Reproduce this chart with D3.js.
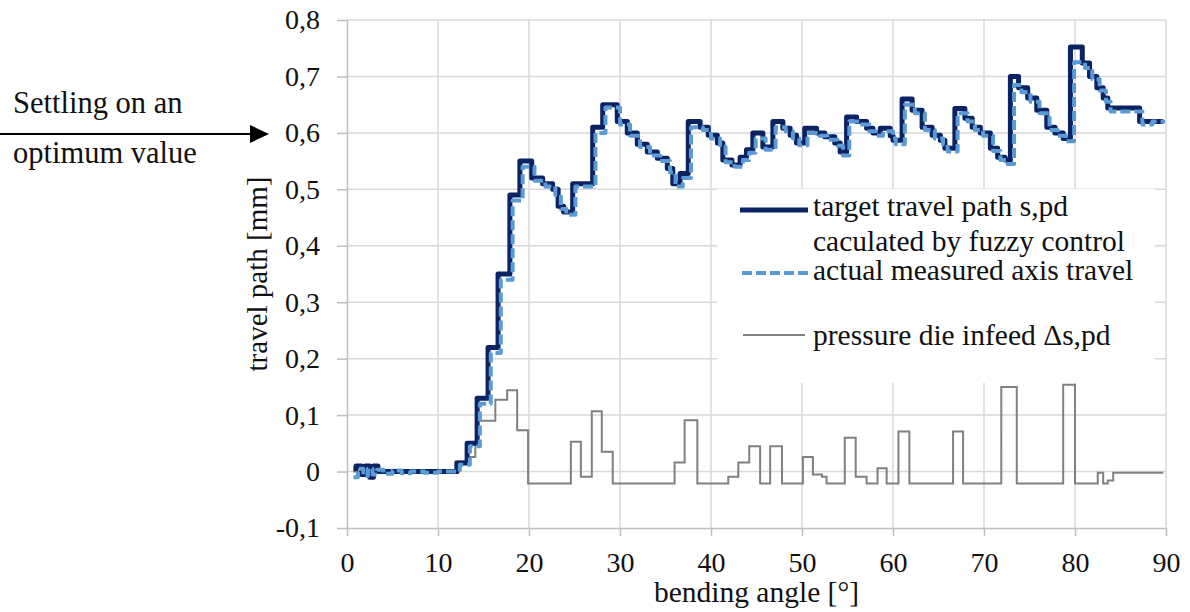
<!DOCTYPE html>
<html>
<head>
<meta charset="utf-8">
<script src="https://d3js.org/d3.v7.min.js"></script>
<style>
  body { margin: 0; background: #fff; }
  text { font-family: "Liberation Serif", "Times New Roman", serif; fill: #111; }
</style>
</head>
<body>
<script>
// x ticks, y ticks and their labels
var xTicks = [0, 10, 20, 30, 40, 50, 60, 70, 80, 90];
var yTicks = [-0.1, 0, 0.1, 0.2, 0.3, 0.4, 0.5, 0.6, 0.7, 0.8];
var yTickLabels = ["-0,1", "0", "0,1", "0,2", "0,3", "0,4", "0,5", "0,6", "0,7", "0,8"];

// target travel path s,pd  [bending angle, mm]  (step after)
var target = [
  [0.7, 0.005], [1.0, 0.01], [1.6, -0.005], [2.0, 0.01], [2.5, -0.01], [2.9, 0.01], [3.4, 0.0],
  [12.1, 0.015], [13.2, 0.05], [14.3, 0.13], [15.5, 0.22], [16.6, 0.35], [17.9, 0.49],
  [19.0, 0.55], [20.3, 0.52], [21.5, 0.51], [22.6, 0.50], [23.2, 0.47], [23.8, 0.46],
  [24.8, 0.51], [27.0, 0.61], [28.1, 0.65], [29.7, 0.62], [30.8, 0.60], [31.9, 0.58],
  [33.0, 0.566], [34.1, 0.555], [35.2, 0.537], [35.8, 0.51], [36.6, 0.528], [37.5, 0.62],
  [38.8, 0.61], [39.7, 0.596], [40.7, 0.582], [41.3, 0.552], [42.3, 0.543], [43.2, 0.557],
  [43.9, 0.57], [44.6, 0.60], [45.7, 0.575], [46.8, 0.62], [47.9, 0.608], [48.7, 0.596],
  [49.4, 0.582], [50.3, 0.608], [51.6, 0.60], [52.5, 0.593], [53.6, 0.582], [54.2, 0.566],
  [54.9, 0.628], [56.0, 0.62], [57.1, 0.608], [57.8, 0.60], [58.6, 0.608], [59.7, 0.595],
  [60.0, 0.587], [61.0, 0.66], [62.1, 0.64], [63.2, 0.61], [64.3, 0.596], [65.2, 0.587],
  [65.7, 0.573], [66.8, 0.643], [67.9, 0.626], [68.7, 0.61], [69.6, 0.60], [70.7, 0.573],
  [71.5, 0.557], [72.3, 0.552], [72.9, 0.70], [73.8, 0.68], [74.8, 0.662], [75.8, 0.64],
  [76.9, 0.61], [77.8, 0.60], [78.7, 0.59], [79.5, 0.752], [80.8, 0.724], [81.6, 0.70],
  [82.4, 0.68], [83.1, 0.662], [83.6, 0.644], [87.1, 0.62], [89.7, 0.62]
];

// actual measured axis travel
var actual = [
  [0.7, -0.01], [1.2, 0.005], [1.8, -0.008], [2.3, 0.005], [2.8, -0.005], [3.3, 0.003],
  [4.0, -0.004], [5.0, 0.002], [6.0, -0.003], [7.0, 0.0], [8.5, -0.002], [10.0, 0.0],
  [12.4, 0.012], [13.5, 0.045], [14.6, 0.12], [15.8, 0.21], [16.9, 0.34], [18.2, 0.48],
  [19.3, 0.54], [20.6, 0.515], [21.8, 0.505], [22.9, 0.49], [23.5, 0.465], [24.1, 0.455],
  [25.1, 0.505], [27.3, 0.60], [28.4, 0.645], [30.0, 0.615], [31.1, 0.595], [32.2, 0.575],
  [33.3, 0.56], [34.4, 0.55], [35.5, 0.53], [36.1, 0.505], [36.9, 0.52], [37.8, 0.61],
  [39.1, 0.605], [40.0, 0.59], [41.0, 0.575], [41.6, 0.548], [42.6, 0.54], [43.5, 0.552],
  [44.2, 0.565], [44.9, 0.59], [46.0, 0.57], [47.1, 0.61], [48.2, 0.603], [49.0, 0.59],
  [49.7, 0.578], [50.6, 0.60], [51.9, 0.595], [52.8, 0.588], [53.9, 0.577], [54.5, 0.56],
  [55.2, 0.62], [56.3, 0.615], [57.4, 0.603], [58.1, 0.595], [58.9, 0.603], [60.0, 0.59],
  [60.3, 0.58], [61.3, 0.65], [62.4, 0.635], [63.5, 0.605], [64.6, 0.59], [65.5, 0.58],
  [66.0, 0.567], [67.1, 0.635], [68.2, 0.62], [69.0, 0.605], [69.9, 0.595], [71.0, 0.568],
  [71.8, 0.552], [72.6, 0.545], [73.3, 0.685], [74.1, 0.672], [75.1, 0.655], [76.1, 0.635],
  [77.2, 0.605], [78.1, 0.595], [79.0, 0.585], [79.9, 0.725], [81.1, 0.715], [81.9, 0.695],
  [82.7, 0.675], [83.4, 0.655], [83.9, 0.638], [87.4, 0.615], [88.5, 0.62], [89.7, 0.617]
];

// pressure die infeed Δs,pd
var infeed = [
  [0.7, 0], [11.9, 0.018], [13.2, 0.026], [14.1, 0.05], [14.3, 0.09], [16.3, 0.127],
  [17.6, 0.144], [18.7, 0.073], [19.9, -0.021], [24.6, 0.053], [25.7, -0.009], [26.9, 0.107],
  [28.0, 0.035], [29.2, -0.021], [36.0, 0.016], [37.1, 0.091], [38.5, -0.021], [41.9, -0.009],
  [43.0, 0.016], [44.2, 0.045], [45.4, -0.021], [46.5, 0.045], [47.8, -0.021], [50.1, 0.026],
  [51.2, -0.005], [52.2, -0.009], [52.7, -0.021], [54.7, 0.06], [55.9, -0.009], [57.1, -0.021],
  [58.3, 0.006], [59.3, -0.021], [60.6, 0.071], [61.8, -0.021], [66.6, 0.071], [67.7, -0.021],
  [71.9, 0.150], [73.6, -0.021], [78.7, 0.154], [80.0, -0.021], [82.5, -0.002], [83.1, -0.021],
  [83.6, -0.016], [84.2, -0.002], [89.7, -0.002]
];

var width = 1190, height = 612;
var plotLeft = 347, plotRight = 1166, plotTop = 20, plotBottom = 528;

var svg = d3.select("body").append("svg")
  .attr("width", width)
  .attr("height", height);

var x = d3.scaleLinear().domain([0, 90]).range([plotLeft, plotRight]);
var y = d3.scaleLinear().domain([-0.1, 0.8]).range([plotBottom, plotTop]);

// grid
svg.append("g").selectAll("line")
  .data(xTicks.slice(1))
  .enter().append("line")
  .attr("x1", function(d) { return x(d); })
  .attr("x2", function(d) { return x(d); })
  .attr("y1", plotTop).attr("y2", plotBottom)
  .attr("stroke", "#d9d9d9").attr("stroke-width", 1.5);

svg.append("g").selectAll("line")
  .data(yTicks.slice(1))
  .enter().append("line")
  .attr("x1", plotLeft).attr("x2", plotRight)
  .attr("y1", function(d) { return y(d); })
  .attr("y2", function(d) { return y(d); })
  .attr("stroke", "#d9d9d9").attr("stroke-width", 1.5);

// axes
var yAxis = d3.axisLeft(y)
  .tickValues(yTicks)
  .tickFormat(function(d, i) { return yTickLabels[i]; })
  .tickSize(10).tickSizeOuter(0).tickPadding(17);

var xAxis = d3.axisBottom(x)
  .tickValues(xTicks)
  .tickSize(8).tickSizeOuter(0).tickPadding(16);

var gy = svg.append("g").attr("transform", "translate(" + plotLeft + ",0)").call(yAxis);
var gx = svg.append("g").attr("transform", "translate(0," + plotBottom + ")").call(xAxis);

[gx, gy].forEach(function(g) {
  g.select(".domain").attr("stroke", "#bfbfbf").attr("stroke-width", 1.5);
  g.selectAll(".tick line").attr("stroke", "#bfbfbf").attr("stroke-width", 1.5);
  g.selectAll(".tick text")
    .attr("font-family", "Liberation Serif")
    .attr("font-size", 28)
    .attr("fill", "#111");
});

// legend background hides the grid
svg.append("rect")
  .attr("x", 717).attr("y", 189)
  .attr("width", 438).attr("height", 194)
  .attr("fill", "#fff");

// series
var line = d3.line()
  .x(function(d) { return x(d[0]); })
  .y(function(d) { return y(d[1]); })
  .curve(d3.curveStepAfter);

svg.append("path")
  .datum(infeed)
  .attr("d", line)
  .attr("fill", "none")
  .attr("stroke", "#808080")
  .attr("stroke-width", 2);

svg.append("path")
  .datum(target)
  .attr("d", line)
  .attr("fill", "none")
  .attr("stroke", "#0b2263")
  .attr("stroke-width", 5)
  .attr("stroke-linejoin", "round");

svg.append("path")
  .datum(actual)
  .attr("d", line)
  .attr("fill", "none")
  .attr("stroke", "#5b9bd5")
  .attr("stroke-width", 4)
  .attr("stroke-dasharray", "10,4")
  .attr("stroke-linejoin", "round");

// legend
var legend = svg.append("g");
legend.append("line").attr("x1", 740).attr("x2", 808).attr("y1", 210).attr("y2", 210)
  .attr("stroke", "#0b2263").attr("stroke-width", 5);
legend.append("line").attr("x1", 742).attr("x2", 808).attr("y1", 273).attr("y2", 273)
  .attr("stroke", "#5b9bd5").attr("stroke-width", 4).attr("stroke-dasharray", "10,4");
legend.append("line").attr("x1", 743).attr("x2", 805).attr("y1", 335).attr("y2", 335)
  .attr("stroke", "#808080").attr("stroke-width", 2);

var legendText = [
  ["target travel path s,pd", 216],
  ["caculated by fuzzy control", 251],
  ["actual measured axis travel", 280],
  ["pressure die infeed \u0394s,pd", 345]
];
legend.selectAll("text")
  .data(legendText)
  .enter().append("text")
  .attr("x", 813)
  .attr("y", function(d) { return d[1]; })
  .attr("font-size", 29.5)
  .text(function(d) { return d[0]; });

// axis titles
svg.append("text")
  .attr("x", (plotLeft + plotRight) / 2).attr("y", 602)
  .attr("text-anchor", "middle")
  .attr("font-size", 29.5)
  .text("bending angle [°]");

svg.append("text")
  .attr("transform", "translate(267," + ((plotTop + plotBottom) / 2) + ") rotate(-90)")
  .attr("text-anchor", "middle")
  .attr("font-size", 29)
  .text("travel path [mm]");

// annotation
svg.append("text").attr("x", 13).attr("y", 113).attr("font-size", 30.5).text("Settling on an");
svg.append("text").attr("x", 13).attr("y", 163).attr("font-size", 30.5).text("optimum value");
svg.append("line").attr("x1", 0).attr("x2", 252).attr("y1", 134).attr("y2", 134)
  .attr("stroke", "#000").attr("stroke-width", 2);
svg.append("path").attr("d", "M250,125L269,134L250,143Z").attr("fill", "#000");
</script>
</body>
</html>
